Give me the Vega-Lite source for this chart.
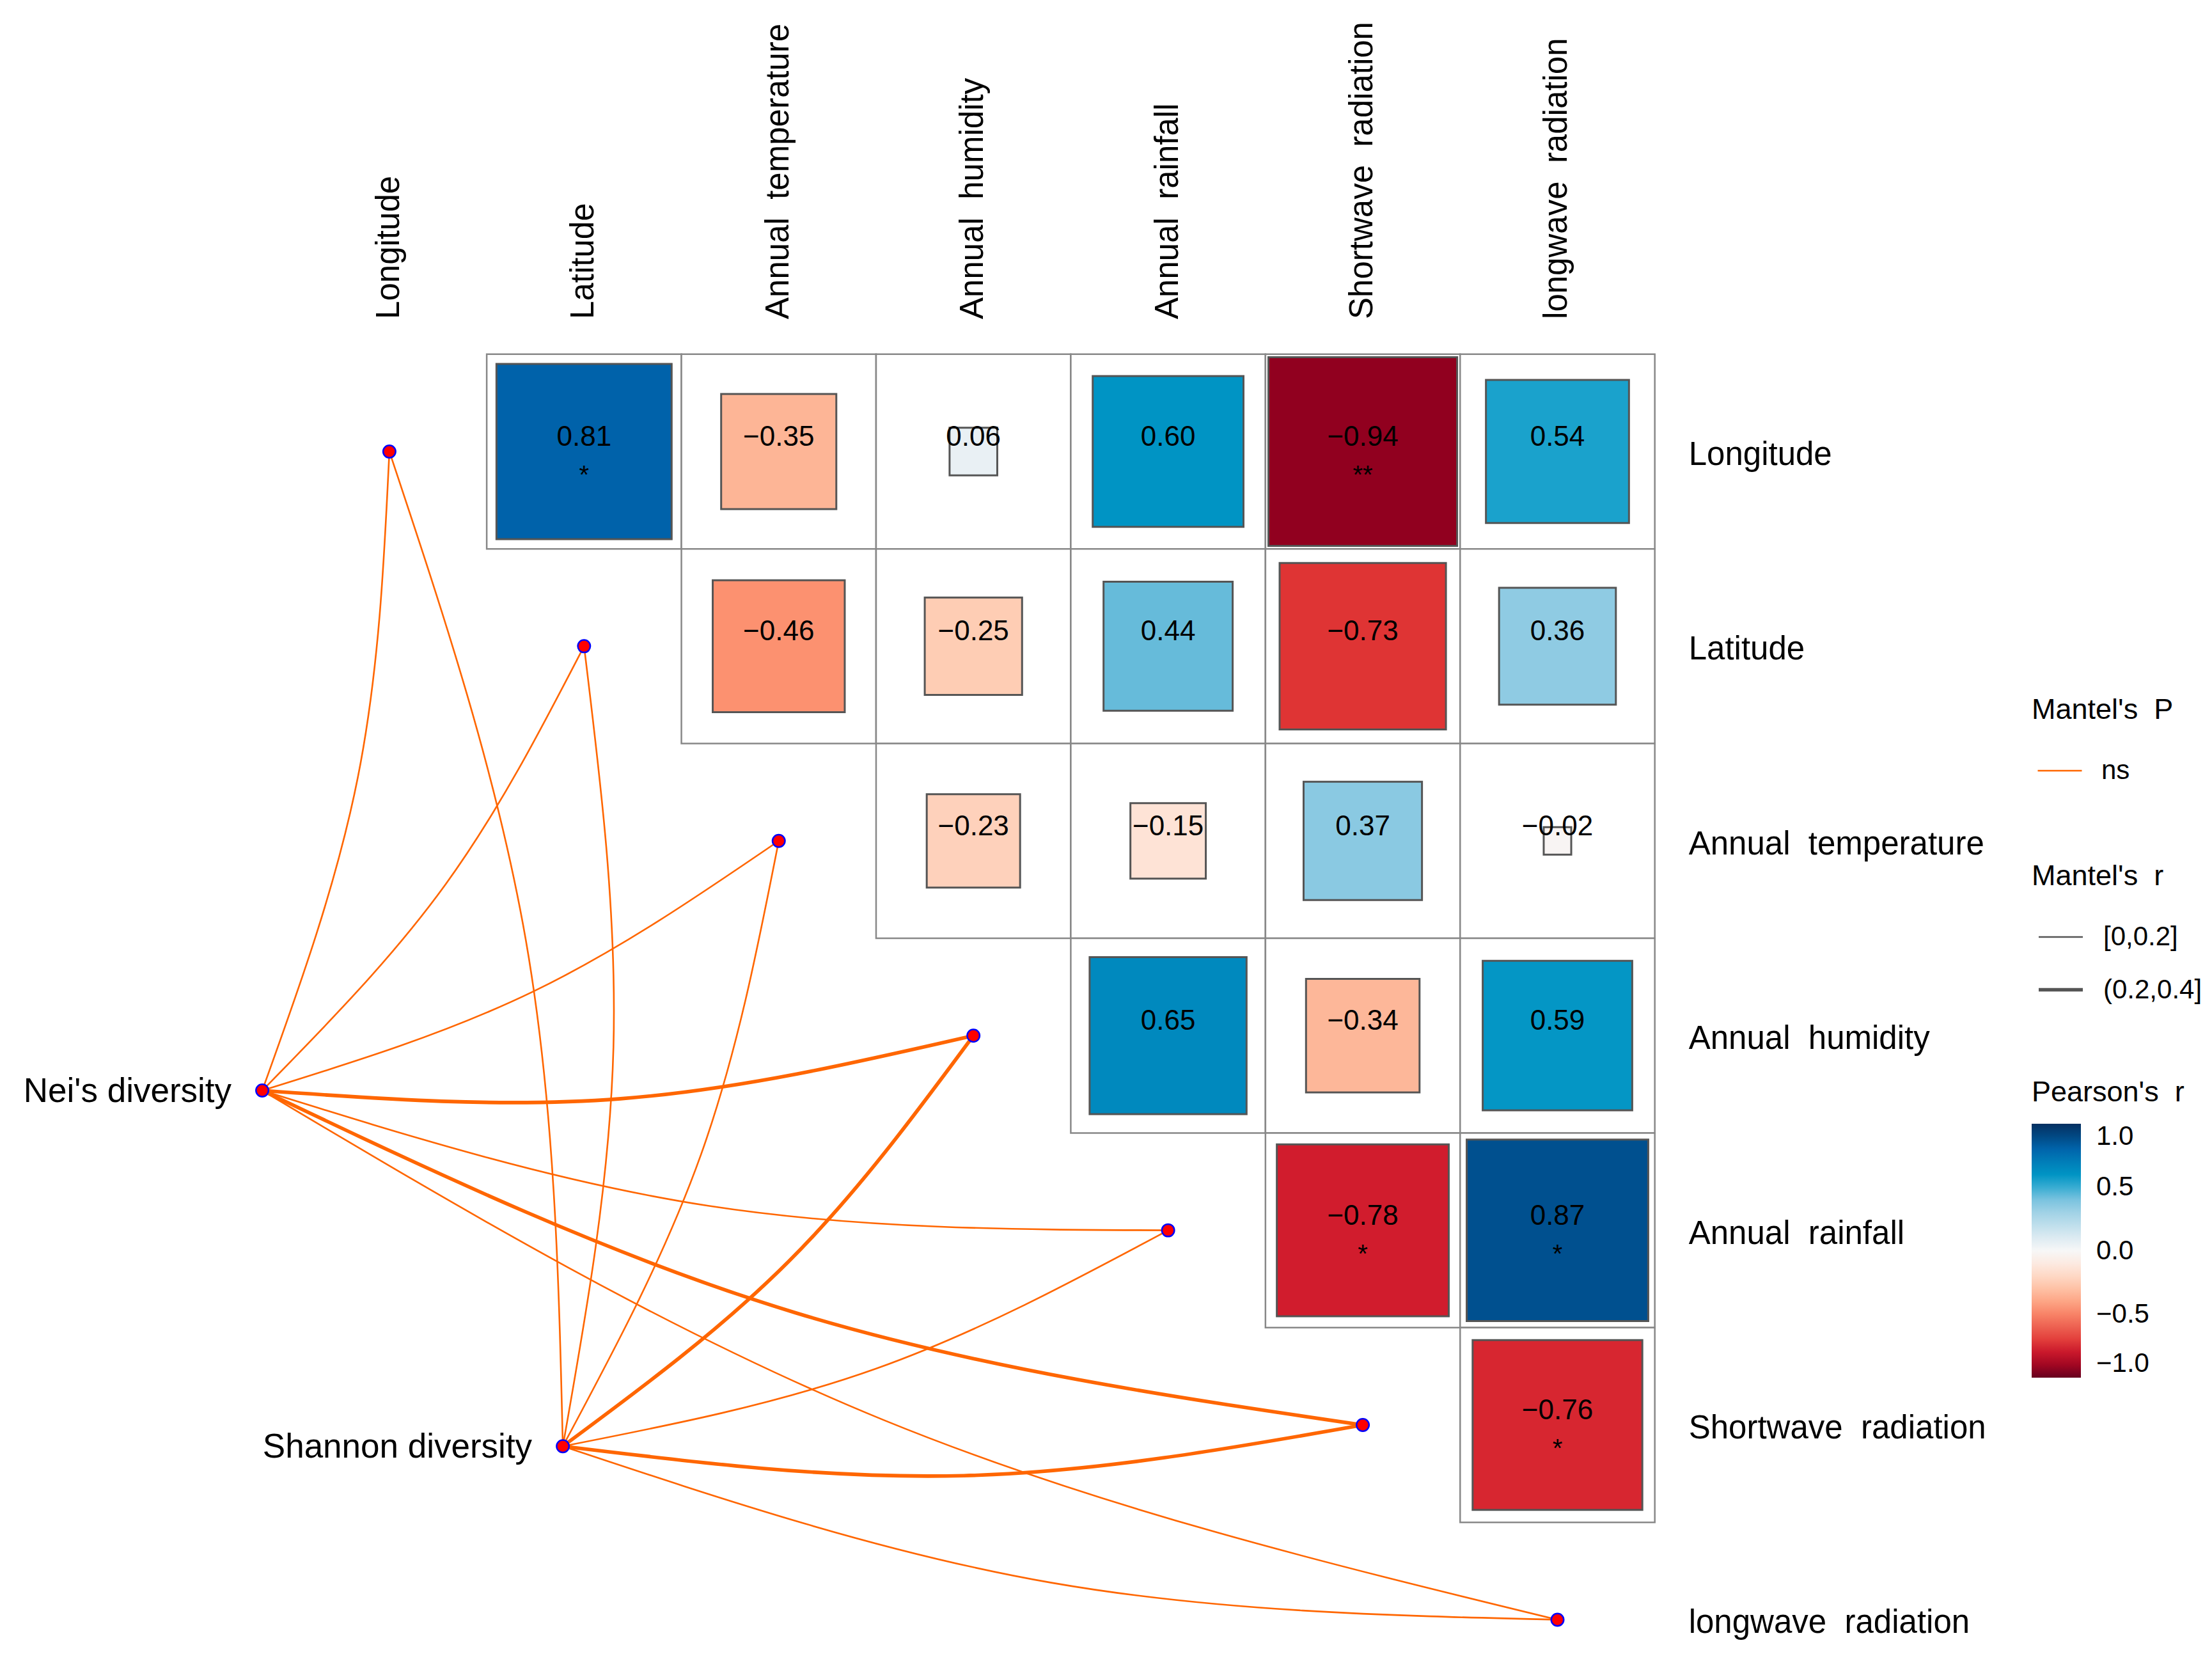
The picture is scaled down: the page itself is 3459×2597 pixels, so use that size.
{
  "$schema": "https://vega.github.io/schema/vega-lite/v6.json",
  "width": 3459,
  "height": 2597,
  "autosize": "none",
  "padding": 0,
  "background": "white",
  "config": {
    "view": {"stroke": null},
    "font": "Liberation Sans",
    "legend": {
      "padding": 0,
      "titleFont": "Liberation Sans",
      "labelFont": "Liberation Sans",
      "titleFontWeight": "normal",
      "titleColor": "black",
      "labelColor": "black",
      "titleLimit": 2000,
      "labelLimit": 2000,
      "gradientVerticalMaxLength": 600
    }
  },
  "datasets": {
    "vars": [
      {"idx": 1, "label": "Longitude"},
      {"idx": 2, "label": "Latitude"},
      {"idx": 3, "label": "Annual\u00a0 temperature"},
      {"idx": 4, "label": "Annual\u00a0 humidity"},
      {"idx": 5, "label": "Annual\u00a0 rainfall"},
      {"idx": 6, "label": "Shortwave\u00a0 radiation"},
      {"idx": 7, "label": "longwave\u00a0 radiation"}
    ],
    "cells": [
      {"row": 1, "col": 2, "r": 0.81, "abs_r": 0.81, "stars": "*"},
      {"row": 1, "col": 3, "r": -0.35, "abs_r": 0.35, "stars": ""},
      {"row": 1, "col": 4, "r": 0.06, "abs_r": 0.06, "stars": ""},
      {"row": 1, "col": 5, "r": 0.60, "abs_r": 0.60, "stars": ""},
      {"row": 1, "col": 6, "r": -0.94, "abs_r": 0.94, "stars": "**"},
      {"row": 1, "col": 7, "r": 0.54, "abs_r": 0.54, "stars": ""},
      {"row": 2, "col": 3, "r": -0.46, "abs_r": 0.46, "stars": ""},
      {"row": 2, "col": 4, "r": -0.25, "abs_r": 0.25, "stars": ""},
      {"row": 2, "col": 5, "r": 0.44, "abs_r": 0.44, "stars": ""},
      {"row": 2, "col": 6, "r": -0.73, "abs_r": 0.73, "stars": ""},
      {"row": 2, "col": 7, "r": 0.36, "abs_r": 0.36, "stars": ""},
      {"row": 3, "col": 4, "r": -0.23, "abs_r": 0.23, "stars": ""},
      {"row": 3, "col": 5, "r": -0.15, "abs_r": 0.15, "stars": ""},
      {"row": 3, "col": 6, "r": 0.37, "abs_r": 0.37, "stars": ""},
      {"row": 3, "col": 7, "r": -0.02, "abs_r": 0.02, "stars": ""},
      {"row": 4, "col": 5, "r": 0.65, "abs_r": 0.65, "stars": ""},
      {"row": 4, "col": 6, "r": -0.34, "abs_r": 0.34, "stars": ""},
      {"row": 4, "col": 7, "r": 0.59, "abs_r": 0.59, "stars": ""},
      {"row": 5, "col": 6, "r": -0.78, "abs_r": 0.78, "stars": "*"},
      {"row": 5, "col": 7, "r": 0.87, "abs_r": 0.87, "stars": "*"},
      {"row": 6, "col": 7, "r": -0.76, "abs_r": 0.76, "stars": "*"}
    ],
    "nodes": [
      {"name": "Nei's diversity", "type": "source", "x": 0.347, "y": 4.282},
      {"name": "Shannon diversity", "type": "source", "x": 1.891, "y": 6.109},
      {"name": "Longitude", "type": "env", "x": 1, "y": 1},
      {"name": "Latitude", "type": "env", "x": 2, "y": 2},
      {"name": "Annual temperature", "type": "env", "x": 3, "y": 3},
      {"name": "Annual humidity", "type": "env", "x": 4, "y": 4},
      {"name": "Annual rainfall", "type": "env", "x": 5, "y": 5},
      {"name": "Shortwave radiation", "type": "env", "x": 6, "y": 6},
      {"name": "longwave radiation", "type": "env", "x": 7, "y": 7}
    ],
    "edges": [
      {"edge": "N1", "p": "ns", "rc": "[0,0.2]", "ord": 0, "x": 0.347, "y": 4.282},
      {"edge": "N1", "p": "ns", "rc": "[0,0.2]", "ord": 1, "x": 0.838, "y": 2.674},
      {"edge": "N1", "p": "ns", "rc": "[0,0.2]", "ord": 2, "x": 1, "y": 1},
      {"edge": "N2", "p": "ns", "rc": "[0,0.2]", "ord": 0, "x": 0.347, "y": 4.282},
      {"edge": "N2", "p": "ns", "rc": "[0,0.2]", "ord": 1, "x": 1.288, "y": 3.224},
      {"edge": "N2", "p": "ns", "rc": "[0,0.2]", "ord": 2, "x": 2, "y": 2},
      {"edge": "N3", "p": "ns", "rc": "[0,0.2]", "ord": 0, "x": 0.347, "y": 4.282},
      {"edge": "N3", "p": "ns", "rc": "[0,0.2]", "ord": 1, "x": 1.738, "y": 3.774},
      {"edge": "N3", "p": "ns", "rc": "[0,0.2]", "ord": 2, "x": 3, "y": 3},
      {"edge": "N4", "p": "ns", "rc": "(0.2,0.4]", "ord": 0, "x": 0.347, "y": 4.282},
      {"edge": "N4", "p": "ns", "rc": "(0.2,0.4]", "ord": 1, "x": 2.188, "y": 4.324},
      {"edge": "N4", "p": "ns", "rc": "(0.2,0.4]", "ord": 2, "x": 4, "y": 4},
      {"edge": "N5", "p": "ns", "rc": "[0,0.2]", "ord": 0, "x": 0.347, "y": 4.282},
      {"edge": "N5", "p": "ns", "rc": "[0,0.2]", "ord": 1, "x": 2.638, "y": 4.874},
      {"edge": "N5", "p": "ns", "rc": "[0,0.2]", "ord": 2, "x": 5, "y": 5},
      {"edge": "N6", "p": "ns", "rc": "(0.2,0.4]", "ord": 0, "x": 0.347, "y": 4.282},
      {"edge": "N6", "p": "ns", "rc": "(0.2,0.4]", "ord": 1, "x": 3.088, "y": 5.424},
      {"edge": "N6", "p": "ns", "rc": "(0.2,0.4]", "ord": 2, "x": 6, "y": 6},
      {"edge": "N7", "p": "ns", "rc": "[0,0.2]", "ord": 0, "x": 0.347, "y": 4.282},
      {"edge": "N7", "p": "ns", "rc": "[0,0.2]", "ord": 1, "x": 3.538, "y": 5.974},
      {"edge": "N7", "p": "ns", "rc": "[0,0.2]", "ord": 2, "x": 7, "y": 7},
      {"edge": "S1", "p": "ns", "rc": "[0,0.2]", "ord": 0, "x": 1.891, "y": 6.109},
      {"edge": "S1", "p": "ns", "rc": "[0,0.2]", "ord": 1, "x": 1.701, "y": 3.510},
      {"edge": "S1", "p": "ns", "rc": "[0,0.2]", "ord": 2, "x": 1, "y": 1},
      {"edge": "S2", "p": "ns", "rc": "[0,0.2]", "ord": 0, "x": 1.891, "y": 6.109},
      {"edge": "S2", "p": "ns", "rc": "[0,0.2]", "ord": 1, "x": 2.151, "y": 4.060},
      {"edge": "S2", "p": "ns", "rc": "[0,0.2]", "ord": 2, "x": 2, "y": 2},
      {"edge": "S3", "p": "ns", "rc": "[0,0.2]", "ord": 0, "x": 1.891, "y": 6.109},
      {"edge": "S3", "p": "ns", "rc": "[0,0.2]", "ord": 1, "x": 2.601, "y": 4.610},
      {"edge": "S3", "p": "ns", "rc": "[0,0.2]", "ord": 2, "x": 3, "y": 3},
      {"edge": "S4", "p": "ns", "rc": "(0.2,0.4]", "ord": 0, "x": 1.891, "y": 6.109},
      {"edge": "S4", "p": "ns", "rc": "(0.2,0.4]", "ord": 1, "x": 3.051, "y": 5.160},
      {"edge": "S4", "p": "ns", "rc": "(0.2,0.4]", "ord": 2, "x": 4, "y": 4},
      {"edge": "S5", "p": "ns", "rc": "[0,0.2]", "ord": 0, "x": 1.891, "y": 6.109},
      {"edge": "S5", "p": "ns", "rc": "[0,0.2]", "ord": 1, "x": 3.501, "y": 5.710},
      {"edge": "S5", "p": "ns", "rc": "[0,0.2]", "ord": 2, "x": 5, "y": 5},
      {"edge": "S6", "p": "ns", "rc": "(0.2,0.4]", "ord": 0, "x": 1.891, "y": 6.109},
      {"edge": "S6", "p": "ns", "rc": "(0.2,0.4]", "ord": 1, "x": 3.951, "y": 6.260},
      {"edge": "S6", "p": "ns", "rc": "(0.2,0.4]", "ord": 2, "x": 6, "y": 6},
      {"edge": "S7", "p": "ns", "rc": "[0,0.2]", "ord": 0, "x": 1.891, "y": 6.109},
      {"edge": "S7", "p": "ns", "rc": "[0,0.2]", "ord": 1, "x": 4.401, "y": 6.810},
      {"edge": "S7", "p": "ns", "rc": "[0,0.2]", "ord": 2, "x": 7, "y": 7}
    ]
  },
  "layer": [
    {
      "data": {"name": "cells"},
      "mark": {"type": "point", "shape": "square", "size": 92660, "filled": true, "fill": "#FFFFFF", "stroke": "#888888", "strokeWidth": 2.5, "opacity": 1},
      "encoding": {
        "x": {"field": "col", "type": "quantitative", "axis": null, "scale": {"domain": [-1.0, 10.362], "nice": false, "zero": false}},
        "y": {"field": "row", "type": "quantitative", "axis": null, "scale": {"domain": [-1.319, 7.212], "reverse": true, "nice": false, "zero": false}}
      }
    },
    {
      "data": {"name": "cells"},
      "mark": {"type": "point", "shape": "square", "filled": true, "stroke": "#555555", "strokeWidth": 3, "opacity": 1},
      "encoding": {
        "x": {"field": "col", "type": "quantitative", "axis": null, "scale": {"domain": [-1.0, 10.362], "nice": false, "zero": false}},
        "y": {"field": "row", "type": "quantitative", "axis": null, "scale": {"domain": [-1.319, 7.212], "reverse": true, "nice": false, "zero": false}},
        "size": {"field": "abs_r", "type": "quantitative", "legend": null, "scale": {"type": "linear", "domain": [0, 1], "range": [0, 92660], "zero": true}},
        "fill": {
          "field": "r", "type": "quantitative",
          "scale": {
            "type": "linear",
            "interpolate": "rgb",
            "domain": [-1, -0.94, -0.78, -0.73, -0.46, -0.35, -0.25, -0.15, 0, 0.06, 0.36, 0.44, 0.54, 0.6, 0.65, 0.81, 0.87, 1],
            "range": ["#67001F", "#91001F", "#D11C2D", "#DF3434", "#FC9170", "#FDB596", "#FECDB4", "#FEE3D6", "#F7F7F7", "#E9F0F4", "#8FCBE3", "#66BBDA", "#1AA2CC", "#0094C4", "#0089BE", "#0062AA", "#00508F", "#053061"]
          },
          "legend": {
            "title": "Pearson's\u00a0 r",
            "orient": "none",
            "legendX": 3177,
            "legendY": 1686,
            "direction": "vertical",
            "type": "gradient",
            "gradientLength": 397,
            "gradientThickness": 77,
            "gradientStrokeWidth": 0,
            "values": [-1, -0.5, 0, 0.5, 1],
            "format": ".1f",
            "titleFontSize": 45,
            "titlePadding": 26,
            "labelFontSize": 42,
            "labelOffset": 24,
            "labelBaseline": "middle",
            "labelOverlap": false
          }
        }
      }
    },
    {
      "data": {"name": "cells"},
      "mark": {"type": "text", "fontSize": 44, "color": "black", "baseline": "middle", "align": "center", "dy": -22},
      "encoding": {
        "x": {"field": "col", "type": "quantitative", "axis": null, "scale": {"domain": [-1.0, 10.362], "nice": false, "zero": false}},
        "y": {"field": "row", "type": "quantitative", "axis": null, "scale": {"domain": [-1.319, 7.212], "reverse": true, "nice": false, "zero": false}},
        "text": {"field": "r", "type": "quantitative", "format": ".2f"}
      }
    },
    {
      "data": {"name": "cells"},
      "transform": [{"filter": "datum.stars != ''"}],
      "mark": {"type": "text", "fontSize": 40, "color": "black", "baseline": "middle", "align": "center", "dy": 38},
      "encoding": {
        "x": {"field": "col", "type": "quantitative", "axis": null, "scale": {"domain": [-1.0, 10.362], "nice": false, "zero": false}},
        "y": {"field": "row", "type": "quantitative", "axis": null, "scale": {"domain": [-1.319, 7.212], "reverse": true, "nice": false, "zero": false}},
        "text": {"field": "stars", "type": "nominal"}
      }
    },
    {
      "data": {"name": "edges"},
      "mark": {"type": "line", "interpolate": "natural", "strokeCap": "butt"},
      "encoding": {
        "x": {"field": "x", "type": "quantitative", "axis": null, "scale": {"domain": [-1.0, 10.362], "nice": false, "zero": false}},
        "y": {"field": "y", "type": "quantitative", "axis": null, "scale": {"domain": [-1.319, 7.212], "reverse": true, "nice": false, "zero": false}},
        "detail": {"field": "edge", "type": "nominal"},
        "order": {"field": "ord", "type": "quantitative"},
        "stroke": {
          "field": "p", "type": "nominal",
          "scale": {"domain": ["ns"], "range": ["#FF6600"]},
          "legend": {
            "title": "Mantel's\u00a0 P",
            "orient": "none",
            "legendX": 3177,
            "legendY": 1088,
            "direction": "vertical",
            "symbolType": "stroke",
            "symbolSize": 4761,
            "symbolStrokeWidth": 2.6,
            "symbolOffset": 8,
            "titleFontSize": 45,
            "titlePadding": 36,
            "labelFontSize": 42,
            "labelOffset": 29
          }
        },
        "strokeWidth": {
          "field": "rc", "type": "ordinal",
          "scale": {"domain": ["[0,0.2]", "(0.2,0.4]"], "range": [2.6, 5.6]},
          "legend": {
            "title": "Mantel's\u00a0 r",
            "orient": "none",
            "legendX": 3177,
            "legendY": 1348,
            "direction": "vertical",
            "symbolType": "stroke",
            "symbolSize": 4761,
            "symbolStrokeColor": "#555555",
            "symbolOffset": 8,
            "rowPadding": 24,
            "titleFontSize": 45,
            "titlePadding": 36,
            "labelFontSize": 42,
            "labelOffset": 29
          }
        }
      }
    },
    {
      "data": {"name": "nodes"},
      "mark": {"type": "point", "shape": "circle", "size": 380, "filled": true, "fill": "#FF0000", "stroke": "#0000FF", "strokeWidth": 2.5, "opacity": 1},
      "encoding": {
        "x": {"field": "x", "type": "quantitative", "axis": null, "scale": {"domain": [-1.0, 10.362], "nice": false, "zero": false}},
        "y": {"field": "y", "type": "quantitative", "axis": null, "scale": {"domain": [-1.319, 7.212], "reverse": true, "nice": false, "zero": false}}
      }
    },
    {
      "data": {"name": "nodes"},
      "transform": [{"filter": "datum.type == 'source'"}],
      "mark": {"type": "text", "fontSize": 53, "color": "black", "align": "right", "baseline": "middle", "dx": -48, "dy": 2},
      "encoding": {
        "x": {"field": "x", "type": "quantitative", "axis": null, "scale": {"domain": [-1.0, 10.362], "nice": false, "zero": false}},
        "y": {"field": "y", "type": "quantitative", "axis": null, "scale": {"domain": [-1.319, 7.212], "reverse": true, "nice": false, "zero": false}},
        "text": {"field": "name", "type": "nominal"}
      }
    },
    {
      "data": {"name": "vars"},
      "mark": {"type": "text", "fontSize": 51, "color": "black", "align": "left", "baseline": "middle", "angle": 270},
      "encoding": {
        "x": {"field": "idx", "type": "quantitative", "axis": null, "scale": {"domain": [-1.0, 10.362], "nice": false, "zero": false}},
        "y": {"datum": 0.32, "type": "quantitative", "axis": null, "scale": {"domain": [-1.319, 7.212], "reverse": true, "nice": false, "zero": false}},
        "text": {"field": "label", "type": "nominal"}
      }
    },
    {
      "data": {"name": "vars"},
      "mark": {"type": "text", "fontSize": 51, "color": "black", "align": "left", "baseline": "middle", "dy": 6},
      "encoding": {
        "x": {"datum": 7.674, "type": "quantitative", "axis": null, "scale": {"domain": [-1.0, 10.362], "nice": false, "zero": false}},
        "y": {"field": "idx", "type": "quantitative", "axis": null, "scale": {"domain": [-1.319, 7.212], "reverse": true, "nice": false, "zero": false}},
        "text": {"field": "label", "type": "nominal"}
      }
    }
  ]
}
